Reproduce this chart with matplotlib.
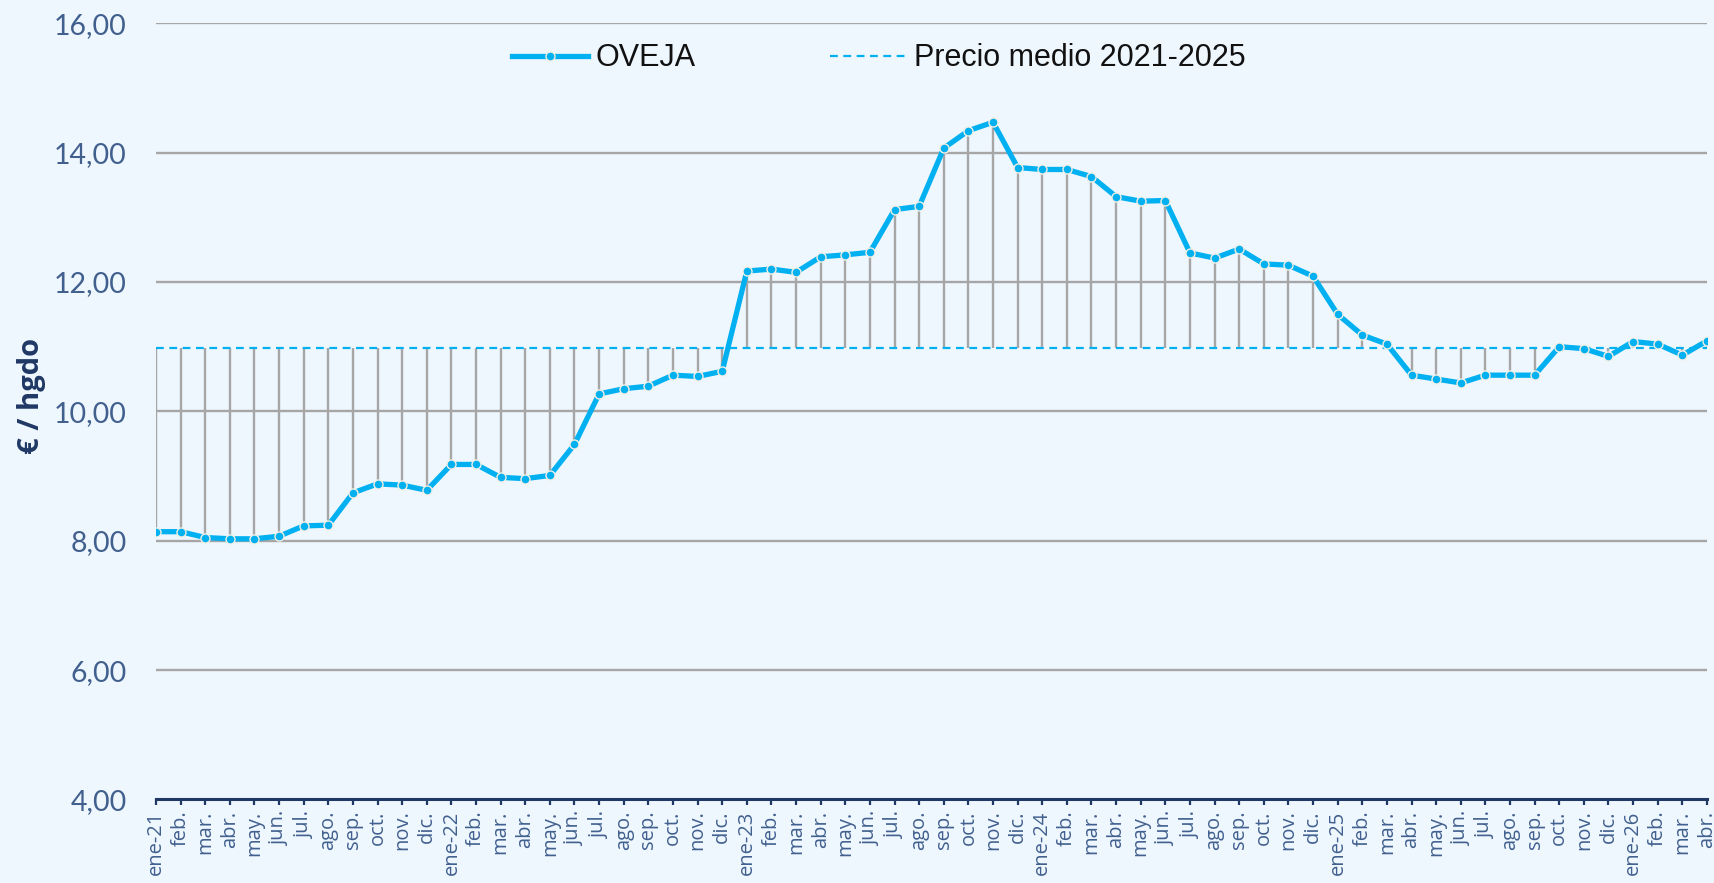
import matplotlib
matplotlib.use("Agg")
import matplotlib.pyplot as plt

# Precio oveja ene-21 .. abr-26
months = ["ene-21", "feb.", "mar.", "abr.", "may.", "jun.", "jul.", "ago.", "sep.", "oct.", "nov.", "dic.",
          "ene-22", "feb.", "mar.", "abr.", "may.", "jun.", "jul.", "ago.", "sep.", "oct.", "nov.", "dic.",
          "ene-23", "feb.", "mar.", "abr.", "may.", "jun.", "jul.", "ago.", "sep.", "oct.", "nov.", "dic.",
          "ene-24", "feb.", "mar.", "abr.", "may.", "jun.", "jul.", "ago.", "sep.", "oct.", "nov.", "dic.",
          "ene-25", "feb.", "mar.", "abr.", "may.", "jun.", "jul.", "ago.", "sep.", "oct.", "nov.", "dic.",
          "ene-26", "feb.", "mar.", "abr."]
oveja = [8.14, 8.14, 8.05, 8.03, 8.03, 8.07, 8.23, 8.24, 8.74, 8.88, 8.86, 8.78,
         9.18, 9.18, 8.98, 8.96, 9.01, 9.49, 10.27, 10.35, 10.39, 10.56, 10.54, 10.62,
         12.17, 12.20, 12.15, 12.39, 12.42, 12.46, 13.12, 13.17, 14.07, 14.34, 14.47, 13.77,
         13.74, 13.74, 13.63, 13.32, 13.25, 13.26, 12.45, 12.37, 12.51, 12.28, 12.26, 12.09,
         11.50, 11.18, 11.04, 10.56, 10.50, 10.44, 10.56, 10.56, 10.56, 11.00, 10.97, 10.85,
         11.08, 11.04, 10.87, 11.09]
precio_medio = 10.98
yticks = [4, 6, 8, 10, 12, 14, 16]

BG = "#EEF6FE"
BLUE = "#00B0F0"
GRAY = "#A6A6A6"
NAVY = "#1F3864"
LABEL = "#41608E"

fig = plt.figure(figsize=(17.14, 8.83), dpi=100, facecolor=BG)
ax = fig.add_axes([0.091, 0.0946, 0.9049, 0.879])
ax.set_facecolor(BG)

xs = list(range(len(oveja)))
for y in yticks[1:]:
    ax.axhline(y, color=GRAY, lw=1.7, zorder=1)
ax.vlines(xs, precio_medio, oveja, color=GRAY, lw=1.7, zorder=2)
ax.plot(xs, [precio_medio] * len(xs), color=BLUE, lw=1.6, ls=(0, (3.5, 2.5)), zorder=3,
        label="Precio medio 2021-2025")
ax.plot(xs, oveja, color=BLUE, lw=3.8, marker="o", ms=6.5, mfc=BLUE, mec="#F3EFE3", mew=1.0,
        zorder=4, label="OVEJA")

ax.set_xlim(0, len(oveja) - 1)
ax.set_ylim(4, 16)
ax.set_yticks(yticks)
ax.set_yticklabels([f"{v:.2f}".replace(".", ",") for v in yticks], fontfamily="Lato",
                   fontweight="normal", fontsize=20.5, color=LABEL)
ax.set_xticks(xs)
ax.set_xticklabels(months, rotation=90, fontfamily="Open Sans", fontsize=14.5, color=LABEL)
ax.tick_params(axis="y", length=0, pad=21)
ax.tick_params(axis="x", direction="out", length=4, width=1.6, color=NAVY, pad=4)
for s in ["top", "right", "left"]:
    ax.spines[s].set_visible(False)
ax.spines["bottom"].set_color(NAVY)
ax.spines["bottom"].set_linewidth(2.2)
ax.spines["bottom"].set_zorder(5)

fig.text(0.0185, 1 - 396 / 883, "€ / hgdo", rotation=90, ha="center", va="center",
         fontfamily="Open Sans", fontweight="bold", fontsize=21, color=NAVY)

h, l = ax.get_legend_handles_labels()
ax.legend(h[::-1], l[::-1], loc="center", bbox_to_anchor=(0.466, 0.955), ncol=2, frameon=False,
          prop={"family": "Liberation Sans", "size": 22}, handlelength=2.5, handletextpad=0.25,
          columnspacing=4.4, labelcolor="#111111")

fig.savefig("out.png", dpi=100, facecolor=BG)
